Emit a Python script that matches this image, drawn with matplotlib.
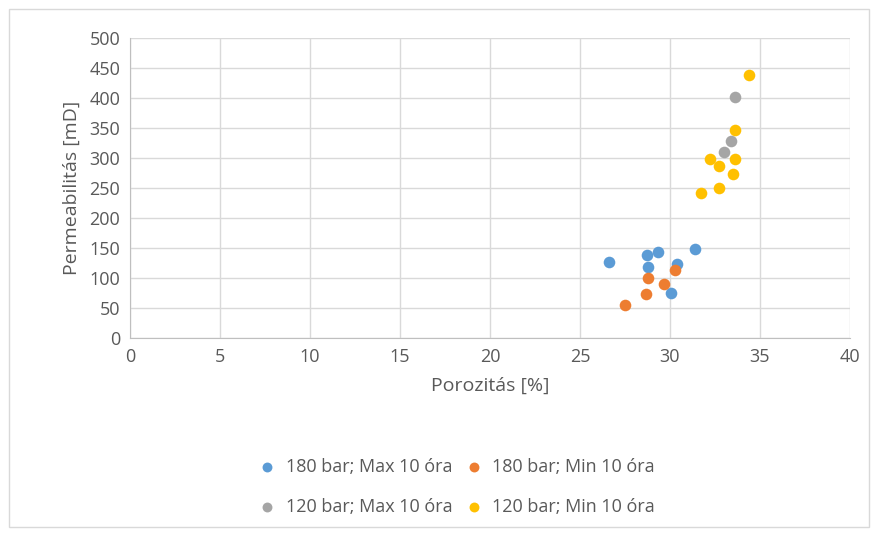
import matplotlib.pyplot as plt
from matplotlib.patches import Rectangle

plt.rcParams['font.family'] = ['Open Sans', 'DejaVu Sans']

# 180 bar, max 10 óra
p180_max_x = [26.6, 28.7, 29.35, 31.4, 28.8, 30.4, 30.05]
p180_max_y = [126, 139, 144, 148, 119, 123, 75]
# 180 bar, min 10 óra
p180_min_x = [28.8, 30.3, 29.65, 28.65, 27.5]
p180_min_y = [100, 114, 90, 73, 55]
# 120 bar, max 10 óra
p120_max_x = [33.6, 33.4, 33.0]
p120_max_y = [402, 328, 310]
# 120 bar, min 10 óra
p120_min_x = [34.4, 33.6, 32.2, 33.6, 32.7, 33.5, 32.7, 31.7]
p120_min_y = [438, 347, 299, 299, 286, 274, 250, 241]

labels = ["180 bar; Max 10 óra", "180 bar; Min 10 óra",
          "120 bar; Max 10 óra", "120 bar; Min 10 óra"]
colors = ["#5B9BD5", "#ED7D31", "#A5A5A5", "#FFC000"]

fig = plt.figure(figsize=(8.75, 5.35), dpi=100)
ax = fig.add_axes([130 / 875, 1 - 338 / 535, 720 / 875, 300 / 535])

series = [(p180_max_x, p180_max_y), (p180_min_x, p180_min_y),
          (p120_max_x, p120_max_y), (p120_min_x, p120_min_y)]
for (xs, ys), lab, col in zip(series, labels, colors):
    ax.scatter(xs, ys, s=70, color=col, label=lab, zorder=3, linewidths=0)

ax.set_xlim(0, 40)
ax.set_ylim(0, 500)
ax.set_xticks(range(0, 41, 5))
ax.set_yticks(range(0, 501, 50))
ax.grid(True, color="#D9D9D9", linewidth=1)
ax.set_axisbelow(True)
for side in ["top", "right"]:
    ax.spines[side].set_visible(False)
for side in ["left", "bottom"]:
    ax.spines[side].set_color("#BFBFBF")
ax.tick_params(length=0, colors="#595959", labelsize=13, pad=7)

ax.set_xlabel("Porozitás [%]", fontsize=14, color="#595959", labelpad=8)
ax.set_ylabel("Permeabilitás [mD]", fontsize=14, color="#595959", labelpad=6)

# legend rows: 180 bar on top, 120 bar below (matplotlib fills by column)
handles, labs = ax.get_legend_handles_labels()
order = [0, 2, 1, 3]
leg = fig.legend([handles[i] for i in order], [labs[i] for i in order],
                 loc="center", bbox_to_anchor=(452 / 875, 1 - 487 / 535),
                 ncol=2, frameon=False, fontsize=13, handletextpad=0.0,
                 columnspacing=0.2, labelspacing=1.2, markerscale=0.85)
for t in leg.get_texts():
    t.set_color("#595959")

fig.patches.append(Rectangle((9 / 875, 8 / 535), 860 / 875, 518 / 535,
                             transform=fig.transFigure, fill=False,
                             edgecolor="#D9D9D9", linewidth=1))

fig.savefig("out.png", dpi=100, facecolor="white")
